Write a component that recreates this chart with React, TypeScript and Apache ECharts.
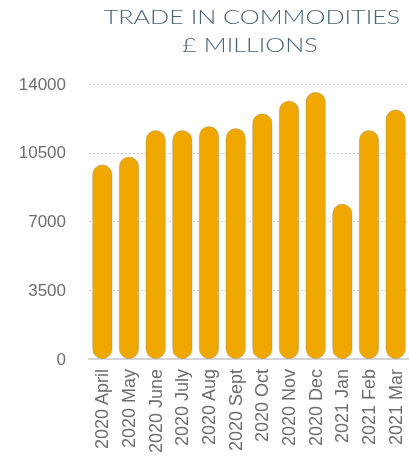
import React, { useEffect, useRef } from "react";
import * as echarts from "echarts";

const categories = [
  "2020 April", "2020 May", "2020 June", "2020 July", "2020 Aug", "2020 Sept",
  "2020 Oct", "2020 Nov", "2020 Dec", "2021 Jan", "2021 Feb", "2021 Mar",
];
const values = [9900, 10300, 11650, 11650, 11850, 11750, 12500, 13150, 13600, 7900, 11650, 12700];
const titleLines = ["TRADE IN COMMODITIES", "£ MILLIONS"];

export default function App() {
  const ref = useRef<HTMLDivElement>(null);
  useEffect(() => {
    if (!ref.current) return;
    const chart = echarts.init(ref.current, undefined, { renderer: "svg" });
    const titleStyle = {
      fontFamily: "Lato",
      fontWeight: 300,
      fontSize: 20,
      fill: "#46637a",
      align: "center",
      verticalAlign: "middle",
    };
    chart.setOption({
      animation: false,
      graphic: [
        {
          type: "text",
          x: 252,
          y: 17,
          scaleX: 1.26,
          style: { ...titleStyle, text: titleLines[0] },
        },
        {
          type: "text",
          x: 250,
          y: 45,
          scaleX: 1.26,
          style: { ...titleStyle, text: titleLines[1] },
        },
      ],
      grid: { left: 89, top: 84, width: 328, height: 275 },
      xAxis: {
        type: "category",
        data: categories,
        axisLine: { show: true, lineStyle: { color: "#d4d4d4", width: 2 } },
        axisTick: { show: false },
        axisLabel: {
          rotate: 90,
          interval: 0,
          margin: 10,
          fontFamily: "Liberation Sans",
          fontSize: 18,
          color: "#6e6e6e",
        },
      },
      yAxis: {
        type: "value",
        min: 0,
        max: 14000,
        interval: 3500,
        axisLine: { show: false },
        axisTick: { show: false },
        splitLine: { show: true, lineStyle: { color: "#c8c8c8", type: [2, 2], width: 1 } },
        axisLabel: {
          margin: 23,
          fontFamily: "Liberation Sans",
          fontSize: 17,
          color: "#6e6e6e",
          formatter: (v: number) => String(v),
        },
      },
      series: [
        {
          type: "bar",
          data: values,
          barWidth: 20,
          itemStyle: {
            color: "#f0a800",
            borderRadius: 10,
            borderColor: "rgba(140,140,140,0.6)",
            borderWidth: 0.6,
          },
        },
      ],
    });
    return () => chart.dispose();
  }, []);
  return (
    <div
      ref={ref}
      style={{ position: "fixed", left: 0, top: 0, width: 409, height: 457 }}
    />
  );
}
